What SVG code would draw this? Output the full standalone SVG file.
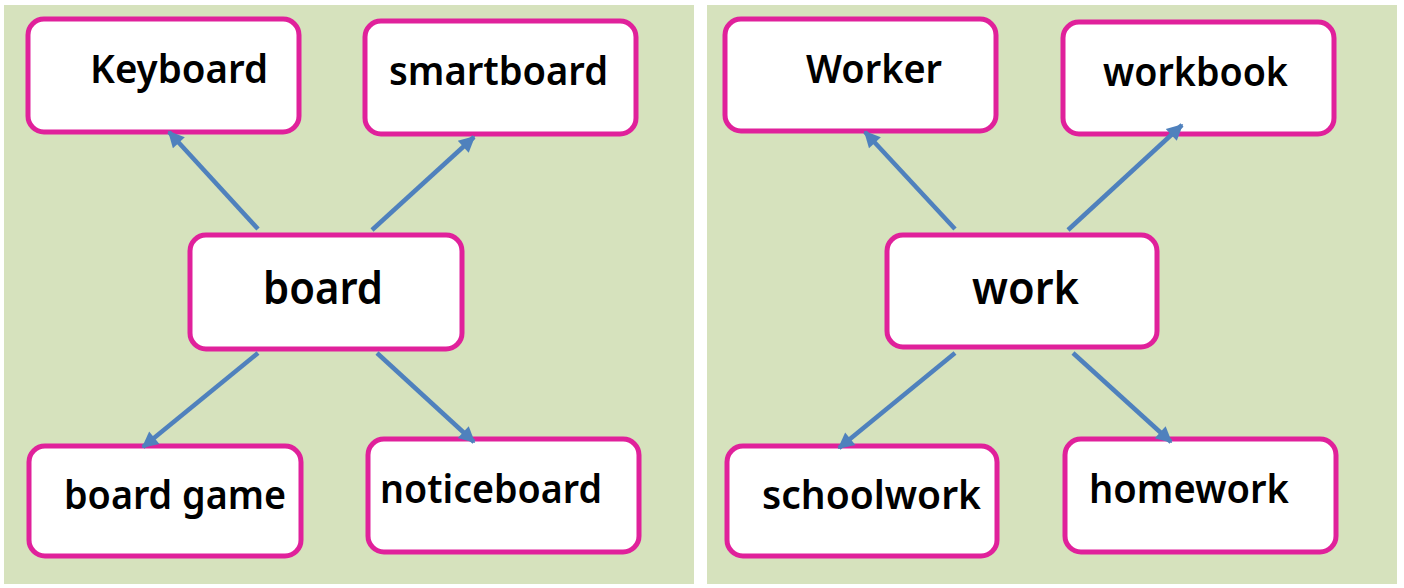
<svg xmlns="http://www.w3.org/2000/svg" width="1404" height="588" viewBox="0 0 1404 588">
  <defs>
    <style>
      .panel { fill: #d6e2bd; }
      .box { fill: #ffffff; stroke: #e0219b; stroke-width: 5; }
      .lbl { font-family: "Noto Sans", "DejaVu Sans", sans-serif; font-weight: 600; font-size: 39px; fill: #000000; }
      .big { font-size: 45px; }
      .arr { stroke: #4f81bd; stroke-width: 4.5; fill: none; marker-end: url(#ah); }
    </style>
    <marker id="ah" viewBox="0 0 10 10" refX="9" refY="5" markerWidth="4" markerHeight="3.6" orient="auto" markerUnits="strokeWidth">
      <path d="M0,0 L10,5 L0,10 z" fill="#4f81bd"/>
    </marker>
  </defs>
  <rect width="1404" height="588" fill="#ffffff"/>
  <rect class="panel" x="4" y="5" width="690" height="579"/>
  <rect class="panel" x="707" y="5" width="690" height="579"/>

  <g id="node-keyboard">
    <rect class="box" x="28" y="19" width="271" height="113" rx="16"/>
    <text class="lbl" x="90" y="83" textLength="178" lengthAdjust="spacingAndGlyphs">Keyboard</text>
  </g>
  <g id="node-smartboard">
    <rect class="box" x="365" y="21" width="271" height="113" rx="16"/>
    <text class="lbl" x="389" y="85" textLength="219" lengthAdjust="spacingAndGlyphs">smartboard</text>
  </g>
  <g id="node-board">
    <rect class="box" x="190" y="235" width="272" height="114" rx="16"/>
    <text class="lbl big" x="263" y="304" textLength="120" lengthAdjust="spacingAndGlyphs">board</text>
  </g>
  <g id="node-boardgame">
    <rect class="box" x="29" y="446" width="272" height="110" rx="16"/>
    <text class="lbl" x="64" y="509" textLength="222" lengthAdjust="spacingAndGlyphs">board game</text>
  </g>
  <g id="node-noticeboard">
    <rect class="box" x="368" y="439" width="271" height="113" rx="16"/>
    <text class="lbl" x="380" y="503" textLength="222" lengthAdjust="spacingAndGlyphs">noticeboard</text>
  </g>

  <g id="node-worker">
    <rect class="box" x="725" y="19" width="271" height="112" rx="16"/>
    <text class="lbl" x="806" y="83" textLength="136" lengthAdjust="spacingAndGlyphs">Worker</text>
  </g>
  <g id="node-workbook">
    <rect class="box" x="1063" y="22" width="271" height="112" rx="16"/>
    <text class="lbl" x="1103" y="86" textLength="185" lengthAdjust="spacingAndGlyphs">workbook</text>
  </g>
  <g id="node-work">
    <rect class="box" x="887" y="235" width="270" height="112" rx="16"/>
    <text class="lbl big" x="972" y="304" textLength="107" lengthAdjust="spacingAndGlyphs">work</text>
  </g>
  <g id="node-schoolwork">
    <rect class="box" x="727" y="446" width="270" height="110" rx="16"/>
    <text class="lbl" x="762" y="509" textLength="219" lengthAdjust="spacingAndGlyphs">schoolwork</text>
  </g>
  <g id="node-homework">
    <rect class="box" x="1065" y="439" width="271" height="113" rx="16"/>
    <text class="lbl" x="1089" y="503" textLength="200" lengthAdjust="spacingAndGlyphs">homework</text>
  </g>

  <g id="connectors">
    <line class="arr" x1="258" y1="229" x2="169" y2="132"/>
    <line class="arr" x1="372" y1="230" x2="474" y2="137"/>
    <line class="arr" x1="258" y1="353" x2="143" y2="447"/>
    <line class="arr" x1="377" y1="353" x2="474" y2="442"/>
    <line class="arr" x1="955" y1="229" x2="865" y2="132"/>
    <line class="arr" x1="1068" y1="230" x2="1182" y2="125"/>
    <line class="arr" x1="955" y1="353" x2="839" y2="448"/>
    <line class="arr" x1="1073" y1="353" x2="1171" y2="442"/>
  </g>
</svg>
